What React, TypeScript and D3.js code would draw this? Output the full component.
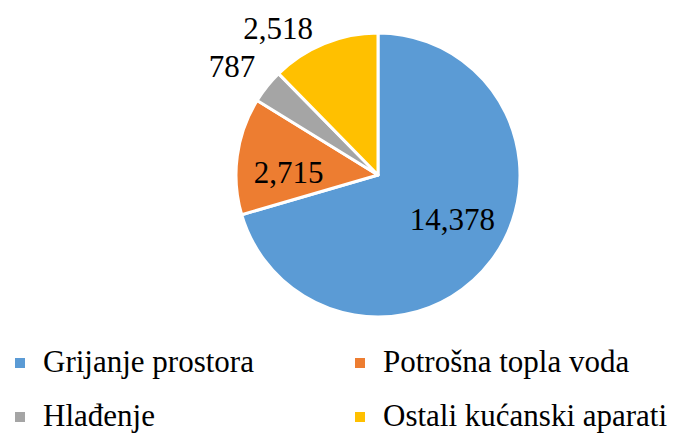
import React from "react";
import * as d3 from "d3";

const categories = ["Grijanje prostora", "Potrošna topla voda", "Hlađenje", "Ostali kućanski aparati"];
const values = [14378, 2715, 787, 2518];
const colors = ["#5B9BD5", "#ED7D31", "#A5A5A5", "#FFC000"];
// label placement: radius factor and angular shift (degrees) relative to slice middle
const labelRadius = [0.61, 0.63, 1.28, 1.25];
const labelShift = [-6, -6, -2, -12];

const W = 681;
const H = 433;
const cx = 378;
const cy = 175;
const R = 142;

const css = `
#pieChart text, #pieChart tspan, svg#pieChart text {
  font-family: "Liberation Serif", "Times New Roman", Tinos, serif !important;
}
`;

export default function App() {
  const pie = d3.pie<number>().sort(null).startAngle(0).endAngle(2 * Math.PI);
  const arcs = pie(values);
  const arc = d3.arc<d3.PieArcDatum<number>>().innerRadius(0).outerRadius(R);
  const fmt = d3.format(",");

  const legendCols = [15, 355];
  const legendRows = [368, 422];

  return (
    <svg id="pieChart" width={W} height={H} fontFamily="Liberation Serif" style={{ position: "absolute", left: 0, top: 0, fontFamily: "Liberation Serif" }}>
      <style>{css}</style>
      <rect width={W} height={H} fill="#fff" />
      <g transform={`translate(${cx},${cy})`}>
        {arcs.map((a, i) => (
          <path key={i} d={arc(a) || ""} fill={colors[i]} stroke="#fff" strokeWidth={3} strokeLinejoin="round" />
        ))}
      </g>
      {arcs.map((a, i) => {
        const mid = (a.startAngle + a.endAngle) / 2 + (labelShift[i] * Math.PI) / 180;
        const rr = R * labelRadius[i];
        const x = cx + rr * Math.sin(mid);
        const y = cy - rr * Math.cos(mid) + 10.5;
        return (
          <text key={"l" + i} x={x} y={y} textAnchor="middle" fontSize={31} fontFamily="Liberation Serif" style={{ fontFamily: "Liberation Serif" }}>
            {fmt(values[i])}
          </text>
        );
      })}
      {categories.map((c, i) => {
        const col = i % 2;
        const row = Math.floor(i / 2);
        const x = legendCols[col];
        const y = legendRows[row];
        return (
          <g key={c}>
            <rect x={x} y={y - 10} width={10} height={10} fill={colors[i]} />
            <text x={x + 28} y={y + 4} fontSize={31} fontFamily="Liberation Serif" style={{ fontFamily: "Liberation Serif" }}>
              {c}
            </text>
          </g>
        );
      })}
    </svg>
  );
}
